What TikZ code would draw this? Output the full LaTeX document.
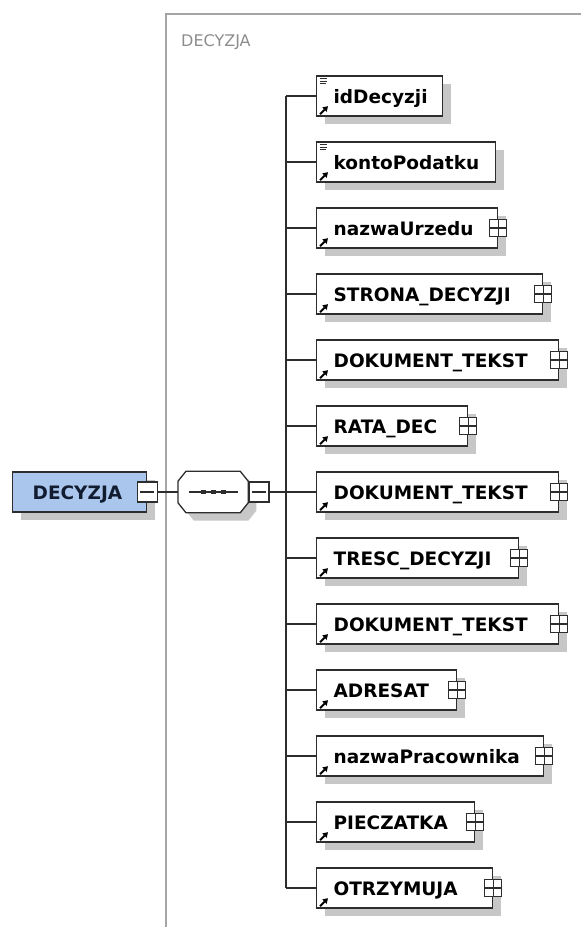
\documentclass[tikz,border=0pt]{standalone}
\usepackage{fontspec}
\setmainfont{DejaVu Sans}
\usepackage{xcolor}
\usepackage{tikz}
\usetikzlibrary{positioning}
\usetikzlibrary{shadows}
\usetikzlibrary{arrows.meta}
\definecolor{rootblue}{RGB}{170,198,236}
\definecolor{rootink}{RGB}{18,28,48}
\definecolor{framegray}{RGB}{165,165,165}
\definecolor{labelgray}{RGB}{140,140,140}
\definecolor{boxline}{RGB}{45,45,45}
\newcommand{\elemfont}{\fontsize{18.5}{20}\selectfont\bfseries}
\tikzset{
    boxshadow/.style={drop shadow={shadow xshift=8pt,shadow yshift=-8pt,fill=black!22,opacity=1}},
    elembase/.style={draw=boxline, line width=1.3pt, fill=white, anchor=west, boxshadow,
        minimum height=40pt, inner sep=0pt, align=left, text height=16pt, text depth=2pt, font=\elemfont},
    elem/.style={elembase, text width=#1, execute at begin node=\hspace*{17pt}},
    rootbox/.style={elembase, fill=rootblue, text=rootink, text width=134pt, execute at begin node=\hspace*{20pt}},
    seqbox/.style={minimum width=70pt, minimum height=41pt, inner sep=0pt},
    octagon/.style={draw=boxline, line width=1.3pt, fill=white, boxshadow},
    minusbox/.style={draw=boxline, line width=1.2pt, fill=white, minimum size=20pt, inner sep=0pt,
        path picture={\draw[line width=1.2pt] ([xshift=3pt]path picture bounding box.west) -- ([xshift=-3pt]path picture bounding box.east);}},
    plusbox/.style={draw=boxline, line width=1.1pt, fill=white, minimum size=17pt, inner sep=0pt,
        path picture={\draw[line width=1.1pt] (path picture bounding box.west) -- (path picture bounding box.east)
            (path picture bounding box.north) -- (path picture bounding box.south);}},
    conn/.style={draw=boxline, line width=1.3pt},
    grouplabel/.style={anchor=base west, inner sep=0pt, text=labelgray, font=\fontsize{16}{18}\selectfont},
    pics/refmark/.style={
    code = {
        \draw[black, line width=1.9pt, -{Triangle[length=5pt,width=6pt]}] (4,-2.5) -- (12,-10.5);
    }},
    pics/listmark/.style={
    code = {
        \draw[boxline, line width=1.1pt] (4,3) -- (11,3) (4,5.7) -- (11,5.7) (4,8.4) -- (10,8.4);
    }}
}

\begin{document}
\begin{tikzpicture}[x=1pt,y=-1pt]
		\useasboundingbox (0,0) rectangle (581,927);

		% group frame
		\draw[framegray, line width=1.2pt] (600,14) -- (166,14) -- (166,940);
		\node[grouplabel] (grp) at (181,46) {DECYZJA};

		% root and sequence
		\node[rootbox] (root) at (12,492) {DECYZJA};
		\node[minusbox] (rootmin) at (root.east) {};
		\node[seqbox, right=20pt of rootmin] (seq) {};
		\path[octagon] ([xshift=8pt]seq.north west) -- ([xshift=-8pt]seq.north east) -- ([yshift=-10pt]seq.north east)
			-- ([yshift=10pt]seq.south east) -- ([xshift=-8pt]seq.south east) -- ([xshift=8pt]seq.south west)
			-- ([yshift=10pt]seq.south west) -- ([yshift=-10pt]seq.north west) -- cycle;
		\node[minusbox, right=0pt of seq] (seqmin) {};
		\draw[conn] ([xshift=-24pt]seq.center) -- ([xshift=25pt]seq.center);
		\fill[boxline] ([xshift=-12.5pt,yshift=-2pt]seq.center) rectangle ++(5pt,4pt);
		\fill[boxline] ([xshift=-2.5pt,yshift=-2pt]seq.center) rectangle ++(5pt,4pt);
		\fill[boxline] ([xshift=7.5pt,yshift=-2pt]seq.center) rectangle ++(5pt,4pt);

		% children
		\node[elem=126pt] (c1) at (316,96) {idDecyzji};
		\node[elem=179pt] (c2) at (316,162) {kontoPodatku};
		\node[elem=181pt] (c3) at (316,228) {nazwaUrzedu};
		\node[elem=226pt] (c4) at (316,294) {STRONA\_DECYZJI};
		\node[elem=242pt] (c5) at (316,360) {DOKUMENT\_TEKST};
		\node[elem=151pt] (c6) at (316,426) {RATA\_DEC};
		\node[elem=242pt] (c7) at (316,492) {DOKUMENT\_TEKST};
		\node[elem=202pt] (c8) at (316,558) {TRESC\_DECYZJI};
		\node[elem=242pt] (c9) at (316,624) {DOKUMENT\_TEKST};
		\node[elem=140pt] (c10) at (316,690) {ADRESAT};
		\node[elem=227pt] (c11) at (316,756) {nazwaPracownika};
		\node[elem=158pt] (c12) at (316,822) {PIECZATKA};
		\node[elem=176pt] (c13) at (316,888) {OTRZYMUJA};

		\node[plusbox] (p3) at (c3.east) {};
		\node[plusbox] (p4) at (c4.east) {};
		\node[plusbox] (p5) at (c5.east) {};
		\node[plusbox] (p6) at (c6.east) {};
		\node[plusbox] (p7) at (c7.east) {};
		\node[plusbox] (p8) at (c8.east) {};
		\node[plusbox] (p9) at (c9.east) {};
		\node[plusbox] (p10) at (c10.east) {};
		\node[plusbox] (p11) at (c11.east) {};
		\node[plusbox] (p12) at (c12.east) {};
		\node[plusbox] (p13) at (c13.east) {};

		\pic at (c1.north west) {listmark};
		\pic at (c2.north west) {listmark};
		\pic at (c1.south west) {refmark};
		\pic at (c2.south west) {refmark};
		\pic at (c3.south west) {refmark};
		\pic at (c4.south west) {refmark};
		\pic at (c5.south west) {refmark};
		\pic at (c6.south west) {refmark};
		\pic at (c7.south west) {refmark};
		\pic at (c8.south west) {refmark};
		\pic at (c9.south west) {refmark};
		\pic at (c10.south west) {refmark};
		\pic at (c11.south west) {refmark};
		\pic at (c12.south west) {refmark};
		\pic at (c13.south west) {refmark};

		% connectors
		\coordinate (trunk) at (286,492);
		\draw[conn] (rootmin.east) -- (seq.west);
		\draw[conn] (seqmin.east) -- (c7.west);
		\draw[conn] (c1.west -| trunk) -- (c13.west -| trunk);
		\draw[conn] (c1.west -| trunk) -- (c1.west);
		\draw[conn] (c2.west -| trunk) -- (c2.west);
		\draw[conn] (c3.west -| trunk) -- (c3.west);
		\draw[conn] (c4.west -| trunk) -- (c4.west);
		\draw[conn] (c5.west -| trunk) -- (c5.west);
		\draw[conn] (c6.west -| trunk) -- (c6.west);
		\draw[conn] (c8.west -| trunk) -- (c8.west);
		\draw[conn] (c9.west -| trunk) -- (c9.west);
		\draw[conn] (c10.west -| trunk) -- (c10.west);
		\draw[conn] (c11.west -| trunk) -- (c11.west);
		\draw[conn] (c12.west -| trunk) -- (c12.west);
		\draw[conn] (c13.west -| trunk) -- (c13.west);

	\end{tikzpicture}
\end{document}
